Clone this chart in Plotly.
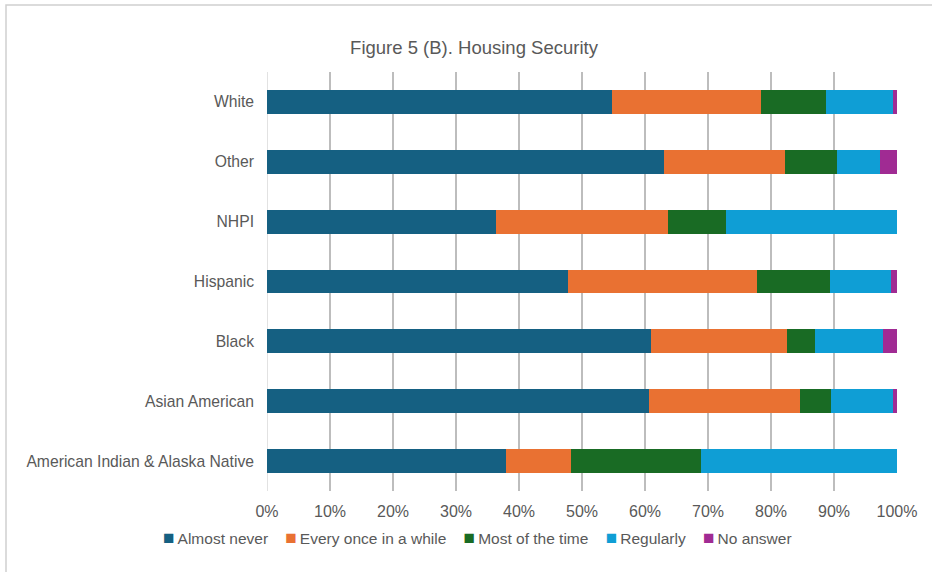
import plotly.graph_objects as go

# Groups, listed bottom to top as drawn on the category axis
groups = [
    "American Indian & Alaska Native",
    "Asian American",
    "Black",
    "Hispanic",
    "NHPI",
    "Other",
    "White",
]

# Share of respondents (%) per response, same order as groups
almost_never = [37.9, 60.7, 60.9, 47.8, 36.4, 63.0, 54.8]
once_in_while = [10.3, 23.9, 21.7, 29.9, 27.3, 19.2, 23.6]
most_of_time = [20.7, 4.9, 4.4, 11.6, 9.1, 8.2, 10.4]
regularly = [31.1, 9.8, 10.8, 9.8, 27.2, 6.9, 10.5]
no_answer = [0.0, 0.7, 2.2, 0.9, 0.0, 2.7, 0.7]

series_names = ["Almost never", "Every once in a while", "Most of the time",
                "Regularly", "No answer"]
series_values = [almost_never, once_in_while, most_of_time, regularly, no_answer]
series_colors = ["#156082", "#E97132", "#196B24", "#0F9ED5", "#A02B93"]

x_ticks = list(range(0, 101, 10))

FONT = "Liberation Sans, Arial, sans-serif"
TEXT = "#595959"

fig = go.Figure()
for name, vals, color in zip(series_names, series_values, series_colors):
    fig.add_trace(go.Bar(
        y=groups, x=vals, name=name, orientation="h",
        marker=dict(color=color, line=dict(width=0)),
        showlegend=False,
    ))

# Compact one-row key: small coloured square followed by the series name
key_parts = [
    f'<span style="color:{c};font-size:19px">■</span>\u2009{n}'
    for n, c in zip(series_names, series_colors)
]
key_text = "    ".join(key_parts)

fig.update_layout(
    width=932, height=572,
    barmode="stack", bargap=0.6,
    paper_bgcolor="white", plot_bgcolor="white",
    margin=dict(l=267, r=35, t=72, b=81),
    font=dict(family=FONT, color=TEXT, size=15.5),
    title=dict(
        text="Figure 5 (B). Housing Security",
        font=dict(family=FONT, size=18.5, color=TEXT),
        x=474 / 932, xanchor="center", xref="container",
        y=1 - 48 / 572, yanchor="middle", yref="container",
    ),
    xaxis=dict(
        range=[0, 100], tickvals=x_ticks,
        ticktext=[f"{v}%" for v in x_ticks],
        showgrid=True, gridcolor="#BDBDBD", gridwidth=1.5,
        zeroline=False, showline=False, ticks="",
        ticklabelstandoff=9,
        tickfont=dict(family=FONT, size=16, color=TEXT),
        fixedrange=True,
    ),
    yaxis=dict(
        categoryorder="array", categoryarray=groups,
        showgrid=False, zeroline=False, ticks="",
        showline=False, ticklabelstandoff=12,
        tickfont=dict(family=FONT, size=15.7, color=TEXT),
        fixedrange=True,
    ),
    annotations=[
        dict(text=key_text, xref="paper", yref="paper",
             x=(477 - 267) / 630, y=(491 - 537) / 419,
             xanchor="center", yanchor="middle", showarrow=False,
             font=dict(family=FONT, size=15.5, color=TEXT)),
    ],
    shapes=[
        # light vertical axis line at 0%
        dict(type="line", xref="x", yref="paper", x0=0, x1=0, y0=0, y1=1,
             line=dict(color="#D9D9D9", width=1.5), layer="below"),
        # chart frame
        dict(type="rect", xref="paper", yref="paper",
             x0=(6 - 267) / 630, x1=(960 - 267) / 630,
             y0=(491 - 600) / 419, y1=1 + (72 - 5) / 419,
             line=dict(color="#D0D0D0", width=1.5), layer="below"),
    ],
)

fig.write_html("out.html")
